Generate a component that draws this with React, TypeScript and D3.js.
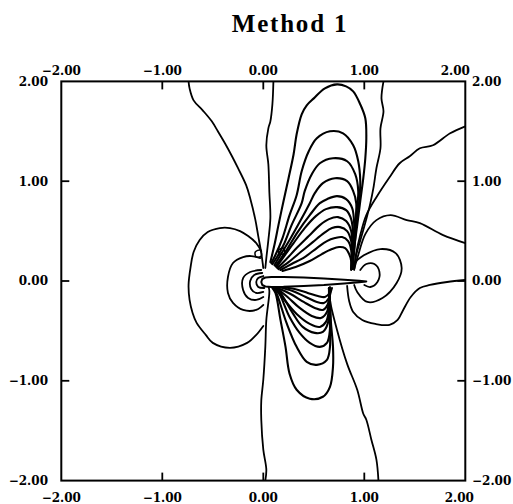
import React from 'react';
import * as d3 from 'd3';

type Pt = [number, number];

// ---- axis data ----
const tickValues = [-2, -1, 0, 1, 2];
const xTickLabels = ['−2.00', '−1.00', '0.00', '1.00', '2.00'];
const yTickLabels = ['−2.00', '−1.00', '0.00', '1.00', '2.00'];
const title = 'Method 1';

// ---- contour lines (data units) ----
const upperLines: Pt[][] = [
  [[-0.74, 2.0], [-0.73, 1.93], [-0.69, 1.81], [-0.6, 1.71], [-0.51, 1.6], [-0.45, 1.5], [-0.38, 1.38], [-0.31, 1.25], [-0.25, 1.13], [-0.17, 0.96], [-0.13, 0.83], [-0.08, 0.62], [-0.05, 0.45], [-0.02, 0.28], [0.0, 0.13]],
  [[0.1, 2.0], [0.09, 1.77], [0.07, 1.6], [0.05, 1.53], [0.03, 1.36], [0.05, 1.17], [0.06, 0.89], [0.07, 0.63], [0.05, 0.41], [0.03, 0.23], [0.02, 0.13]],
  [[1.19, 2.0], [1.17, 1.83], [1.19, 1.7], [1.16, 1.53], [1.16, 1.33], [1.12, 1.13], [1.09, 0.93], [1.06, 0.78], [1.02, 0.62], [0.97, 0.44], [0.92, 0.26], [0.9, 0.11]],
  [[2.0, 1.55], [1.85, 1.48], [1.68, 1.36], [1.55, 1.33], [1.45, 1.25], [1.35, 1.18], [1.25, 1.04], [1.12, 0.84], [1.02, 0.66], [0.96, 0.46], [0.92, 0.28], [0.9, 0.12]],
  [[2.0, 0.38], [1.78, 0.46], [1.55, 0.58], [1.42, 0.61], [1.26, 0.66], [1.12, 0.61], [1.01, 0.47], [0.94, 0.26], [0.9, 0.12]],
];

const upperArches: Pt[][] = [
  [[0.07, 0.19], [0.11, 0.36], [0.15, 0.56], [0.2, 0.8], [0.25, 1.03], [0.3, 1.27], [0.33, 1.47], [0.38, 1.67], [0.43, 1.76], [0.5, 1.83], [0.61, 1.93], [0.73, 1.97], [0.82, 1.95], [0.89, 1.9], [0.96, 1.77], [1.01, 1.63], [1.02, 1.43], [1.01, 1.23], [0.99, 1.03], [0.96, 0.8], [0.93, 0.56], [0.9, 0.33], [0.88, 0.12]],
  [[0.08, 0.18], [0.12, 0.26], [0.19, 0.43], [0.26, 0.66], [0.33, 0.86], [0.38, 1.1], [0.45, 1.3], [0.53, 1.43], [0.66, 1.5], [0.79, 1.48], [0.89, 1.36], [0.94, 1.2], [0.96, 1.0], [0.95, 0.8], [0.92, 0.55], [0.9, 0.3], [0.88, 0.12]],
  [[0.09, 0.17], [0.13, 0.23], [0.2, 0.36], [0.28, 0.56], [0.38, 0.78], [0.41, 0.9], [0.48, 1.07], [0.56, 1.18], [0.69, 1.23], [0.83, 1.2], [0.91, 1.07], [0.94, 0.9], [0.92, 0.66], [0.9, 0.41], [0.88, 0.12]],
  [[0.11, 0.16], [0.17, 0.26], [0.26, 0.41], [0.36, 0.59], [0.46, 0.78], [0.51, 0.88], [0.59, 0.98], [0.71, 1.03], [0.83, 1.0], [0.89, 0.9], [0.92, 0.78], [0.91, 0.56], [0.89, 0.36], [0.88, 0.12]],
  [[0.12, 0.15], [0.15, 0.19], [0.23, 0.31], [0.34, 0.49], [0.46, 0.66], [0.56, 0.78], [0.63, 0.82], [0.73, 0.85], [0.82, 0.82], [0.88, 0.73], [0.9, 0.56], [0.89, 0.36], [0.88, 0.12]],
  [[0.13, 0.14], [0.2, 0.24], [0.3, 0.38], [0.41, 0.53], [0.52, 0.65], [0.62, 0.72], [0.73, 0.74], [0.82, 0.71], [0.87, 0.62], [0.89, 0.45], [0.88, 0.12]],
  [[0.14, 0.13], [0.22, 0.21], [0.33, 0.33], [0.45, 0.45], [0.56, 0.56], [0.65, 0.62], [0.74, 0.64], [0.82, 0.6], [0.87, 0.5], [0.88, 0.33], [0.88, 0.12]],
  [[0.15, 0.12], [0.25, 0.19], [0.37, 0.29], [0.49, 0.39], [0.6, 0.48], [0.68, 0.53], [0.76, 0.54], [0.83, 0.5], [0.87, 0.4], [0.88, 0.26], [0.87, 0.12]],
  [[0.17, 0.11], [0.28, 0.17], [0.41, 0.24], [0.53, 0.33], [0.63, 0.4], [0.71, 0.43], [0.78, 0.44], [0.84, 0.4], [0.87, 0.31], [0.87, 0.12]],
  [[0.19, 0.1], [0.32, 0.14], [0.46, 0.2], [0.58, 0.27], [0.68, 0.32], [0.75, 0.34], [0.81, 0.33], [0.85, 0.27], [0.87, 0.2], [0.87, 0.11]],
];

const lowerBowls: Pt[][] = [
  [[0.09, -0.07], [0.12, -0.12], [0.17, -0.39], [0.22, -0.66], [0.26, -0.93], [0.33, -1.09], [0.46, -1.18], [0.59, -1.16], [0.66, -1.06], [0.69, -0.86], [0.69, -0.66], [0.67, -0.42], [0.66, -0.19], [0.65, -0.07]],
  [[0.1, -0.07], [0.13, -0.12], [0.23, -0.42], [0.33, -0.66], [0.43, -0.81], [0.53, -0.84], [0.63, -0.79], [0.66, -0.66], [0.66, -0.49], [0.66, -0.26], [0.65, -0.07]],
  [[0.11, -0.07], [0.15, -0.11], [0.26, -0.36], [0.36, -0.52], [0.46, -0.62], [0.56, -0.66], [0.63, -0.62], [0.66, -0.49], [0.66, -0.29], [0.65, -0.07]],
  [[0.12, -0.07], [0.17, -0.12], [0.29, -0.32], [0.39, -0.46], [0.51, -0.52], [0.59, -0.51], [0.64, -0.42], [0.65, -0.29], [0.65, -0.07]],
  [[0.12, -0.08], [0.21, -0.19], [0.33, -0.33], [0.46, -0.43], [0.56, -0.46], [0.62, -0.41], [0.65, -0.29], [0.66, -0.15], [0.66, -0.07]],
  [[0.13, -0.07], [0.24, -0.16], [0.36, -0.27], [0.48, -0.35], [0.57, -0.37], [0.63, -0.31], [0.65, -0.19], [0.66, -0.08]],
  [[0.14, -0.07], [0.27, -0.13], [0.4, -0.21], [0.51, -0.27], [0.59, -0.29], [0.64, -0.23], [0.66, -0.12], [0.66, -0.07]],
  [[0.15, -0.06], [0.29, -0.1], [0.42, -0.16], [0.53, -0.21], [0.6, -0.22], [0.65, -0.17], [0.67, -0.09]],
  [[0.17, -0.06], [0.31, -0.08], [0.44, -0.12], [0.54, -0.15], [0.61, -0.16], [0.66, -0.12], [0.68, -0.07]],
];

const lowerLines: Pt[][] = [
  [[0.66, -0.06], [0.66, -0.19], [0.73, -0.49], [0.83, -0.83], [0.93, -1.09], [0.99, -1.33], [1.02, -1.39], [1.07, -1.59], [1.12, -1.79], [1.14, -2.0]],
  [[0.05, -0.05], [0.06, -0.1], [0.03, -0.39], [0.02, -0.66], [0.0, -0.99], [-0.02, -1.2], [-0.02, -1.39], [0.0, -1.69], [0.03, -1.89], [0.02, -2.0]],
  [[2.0, 0.01], [1.82, -0.01], [1.65, -0.04], [1.55, -0.07], [1.46, -0.16], [1.38, -0.3], [1.33, -0.39], [1.25, -0.44], [1.11, -0.43], [0.98, -0.39], [0.89, -0.31], [0.85, -0.2], [0.83, -0.05]],
];

const leftLoops: Pt[][] = [
  [[-0.02, 0.3], [-0.07, 0.38], [-0.15, 0.45], [-0.23, 0.5], [-0.33, 0.53], [-0.43, 0.53], [-0.55, 0.49], [-0.63, 0.41], [-0.69, 0.29], [-0.72, 0.14], [-0.74, -0.04], [-0.73, -0.19], [-0.7, -0.32], [-0.66, -0.42], [-0.57, -0.54], [-0.5, -0.62], [-0.33, -0.67], [-0.16, -0.62], [-0.07, -0.54], [0.0, -0.45]],
  [[-0.03, 0.23], [-0.12, 0.25], [-0.2, 0.24], [-0.3, 0.18], [-0.35, 0.04], [-0.35, -0.12], [-0.3, -0.22], [-0.2, -0.29], [-0.07, -0.29], [0.0, -0.24]],
  [[-0.02, 0.11], [-0.13, 0.09], [-0.2, 0.03], [-0.2, -0.09], [-0.15, -0.17], [-0.07, -0.19], [0.0, -0.16]],
  [[-0.01, 0.08], [-0.09, 0.06], [-0.13, 0.0], [-0.12, -0.08], [-0.07, -0.12], [0.0, -0.11]],
  [[0.0, 0.05], [-0.05, 0.03], [-0.07, -0.01], [-0.05, -0.06], [0.01, -0.07]],
];

const wakeLoops: Pt[][] = [
  [[0.91, 0.19], [1.0, 0.26], [1.16, 0.32], [1.31, 0.28], [1.37, 0.13], [1.32, -0.02], [1.18, -0.17], [1.03, -0.21], [0.93, -0.11], [0.9, -0.04]],
  [[0.96, 0.11], [1.02, 0.17], [1.1, 0.17], [1.15, 0.09], [1.13, -0.01], [1.06, -0.06], [1.0, -0.04]],
];

const smallCurls: Pt[][] = [
  [[-0.08, 0.29], [-0.03, 0.31], [-0.02, 0.25], [-0.07, 0.24]],
  [[0.15, 0.31], [0.2, 0.33], [0.21, 0.28], [0.16, 0.27]],
];

// ---- airfoil outline ----
const airfoilX = [-0.02, -0.01, 0.02, 0.08, 0.2, 0.4, 0.6, 0.8, 0.95, 1.02];
const airfoilUpper = [-0.01, 0.02, 0.035, 0.04, 0.04, 0.035, 0.025, 0.012, 0.003, -0.005];
const airfoilLower = [-0.01, -0.04, -0.055, -0.06, -0.058, -0.05, -0.04, -0.025, -0.012, -0.005];

export default function App() {
  const W = 513;
  const H = 504;
  const x = d3.scaleLinear().domain([-2, 2]).range([61.3, 465.3]);
  const y = d3.scaleLinear().domain([-2, 2]).range([480.6, 81.4]);

  const open = d3
    .line<Pt>()
    .x((d) => x(d[0]))
    .y((d) => y(d[1]))
    .curve(d3.curveCatmullRom.alpha(0.5));
  const closed = d3
    .line<Pt>()
    .x((d) => x(d[0]))
    .y((d) => y(d[1]))
    .curve(d3.curveCatmullRomClosed.alpha(0.5));
  const poly = d3
    .line<Pt>()
    .x((d) => x(d[0]))
    .y((d) => y(d[1]))
    .curve(d3.curveLinearClosed);

  const airfoilPts: Pt[] = [
    ...airfoilX.map((v, i) => [v, airfoilUpper[i]] as Pt),
    ...airfoilX
      .map((v, i) => [v, airfoilLower[i]] as Pt)
      .slice(1, -1)
      .reverse(),
  ];

  const x0 = x(-2), x1 = x(2), y0 = y(2), y1 = y(-2);
  const tickLen = 8;
  const labelFont = { fontFamily: 'DejaVu Serif', fontWeight: 700, fontSize: 12 } as const;
  const thinGroup = [...upperLines, ...lowerLines, ...leftLoops, ...wakeLoops];
  const denseGroup = [...upperArches, ...lowerBowls];

  return (
    <svg width={W} height={H} style={{ position: 'absolute', left: 0, top: 0, background: '#fff' }}>
      <rect x={0} y={0} width={W} height={H} fill="#fff" />
      <text
        x={290}
        y={32}
        textAnchor="middle"
        style={{ fontFamily: 'Liberation Serif', fontWeight: 700, fontSize: 25, letterSpacing: 1.8 }}
      >
        {title}
      </text>
      <defs>
        <clipPath id="plotClip">
          <rect x={x0} y={y0} width={x1 - x0} height={y1 - y0} />
        </clipPath>
      </defs>
      <g clipPath="url(#plotClip)" fill="none" stroke="#000" strokeLinejoin="round" strokeLinecap="round">
        {thinGroup.map((pts, i) => (
          <path key={'o' + i} d={open(pts) || ''} strokeWidth={1.8} />
        ))}
        {denseGroup.map((pts, i) => (
          <path key={'d' + i} d={open(pts) || ''} strokeWidth={2.1} />
        ))}
        {smallCurls.map((pts, i) => (
          <path key={'c' + i} d={closed(pts) || ''} strokeWidth={1.5} />
        ))}
        <path d={poly(airfoilPts) || ''} fill="#fff" stroke="#000" strokeWidth={2} />
      </g>
      {/* frame */}
      <rect x={x0} y={y0} width={x1 - x0} height={y1 - y0} fill="none" stroke="#000" strokeWidth={2} />
      {/* ticks */}
      <g stroke="#000" strokeWidth={1.8}>
        {tickValues.slice(1, -1).map((t) => (
          <g key={'t' + t}>
            <line x1={x(t)} x2={x(t)} y1={y0} y2={y0 + tickLen} />
            <line x1={x(t)} x2={x(t)} y1={y1} y2={y1 - tickLen} />
            <line x1={x0} x2={x0 + tickLen} y1={y(t)} y2={y(t)} />
            <line x1={x1} x2={x1 - tickLen} y1={y(t)} y2={y(t)} />
          </g>
        ))}
      </g>
      {/* x labels */}
      {tickValues.map((t, i) => (
        <g key={'xl' + t} style={labelFont}>
          <text x={x(t)} dx={t === 2 ? -10 : 0} y={75} textAnchor="middle">
            {xTickLabels[i]}
          </text>
          <text x={x(t)} dx={t === 2 ? -6 : 0} y={502} textAnchor="middle">
            {xTickLabels[i]}
          </text>
        </g>
      ))}
      {/* y labels */}
      {tickValues.map((t, i) => (
        <g key={'yl' + t} style={labelFont}>
          <text x={48} y={y(t)} dy="0.36em" textAnchor="end">
            {yTickLabels[i]}
          </text>
          <text x={472} y={y(t)} dy="0.36em" textAnchor="start">
            {yTickLabels[i]}
          </text>
        </g>
      ))}
    </svg>
  );
}
